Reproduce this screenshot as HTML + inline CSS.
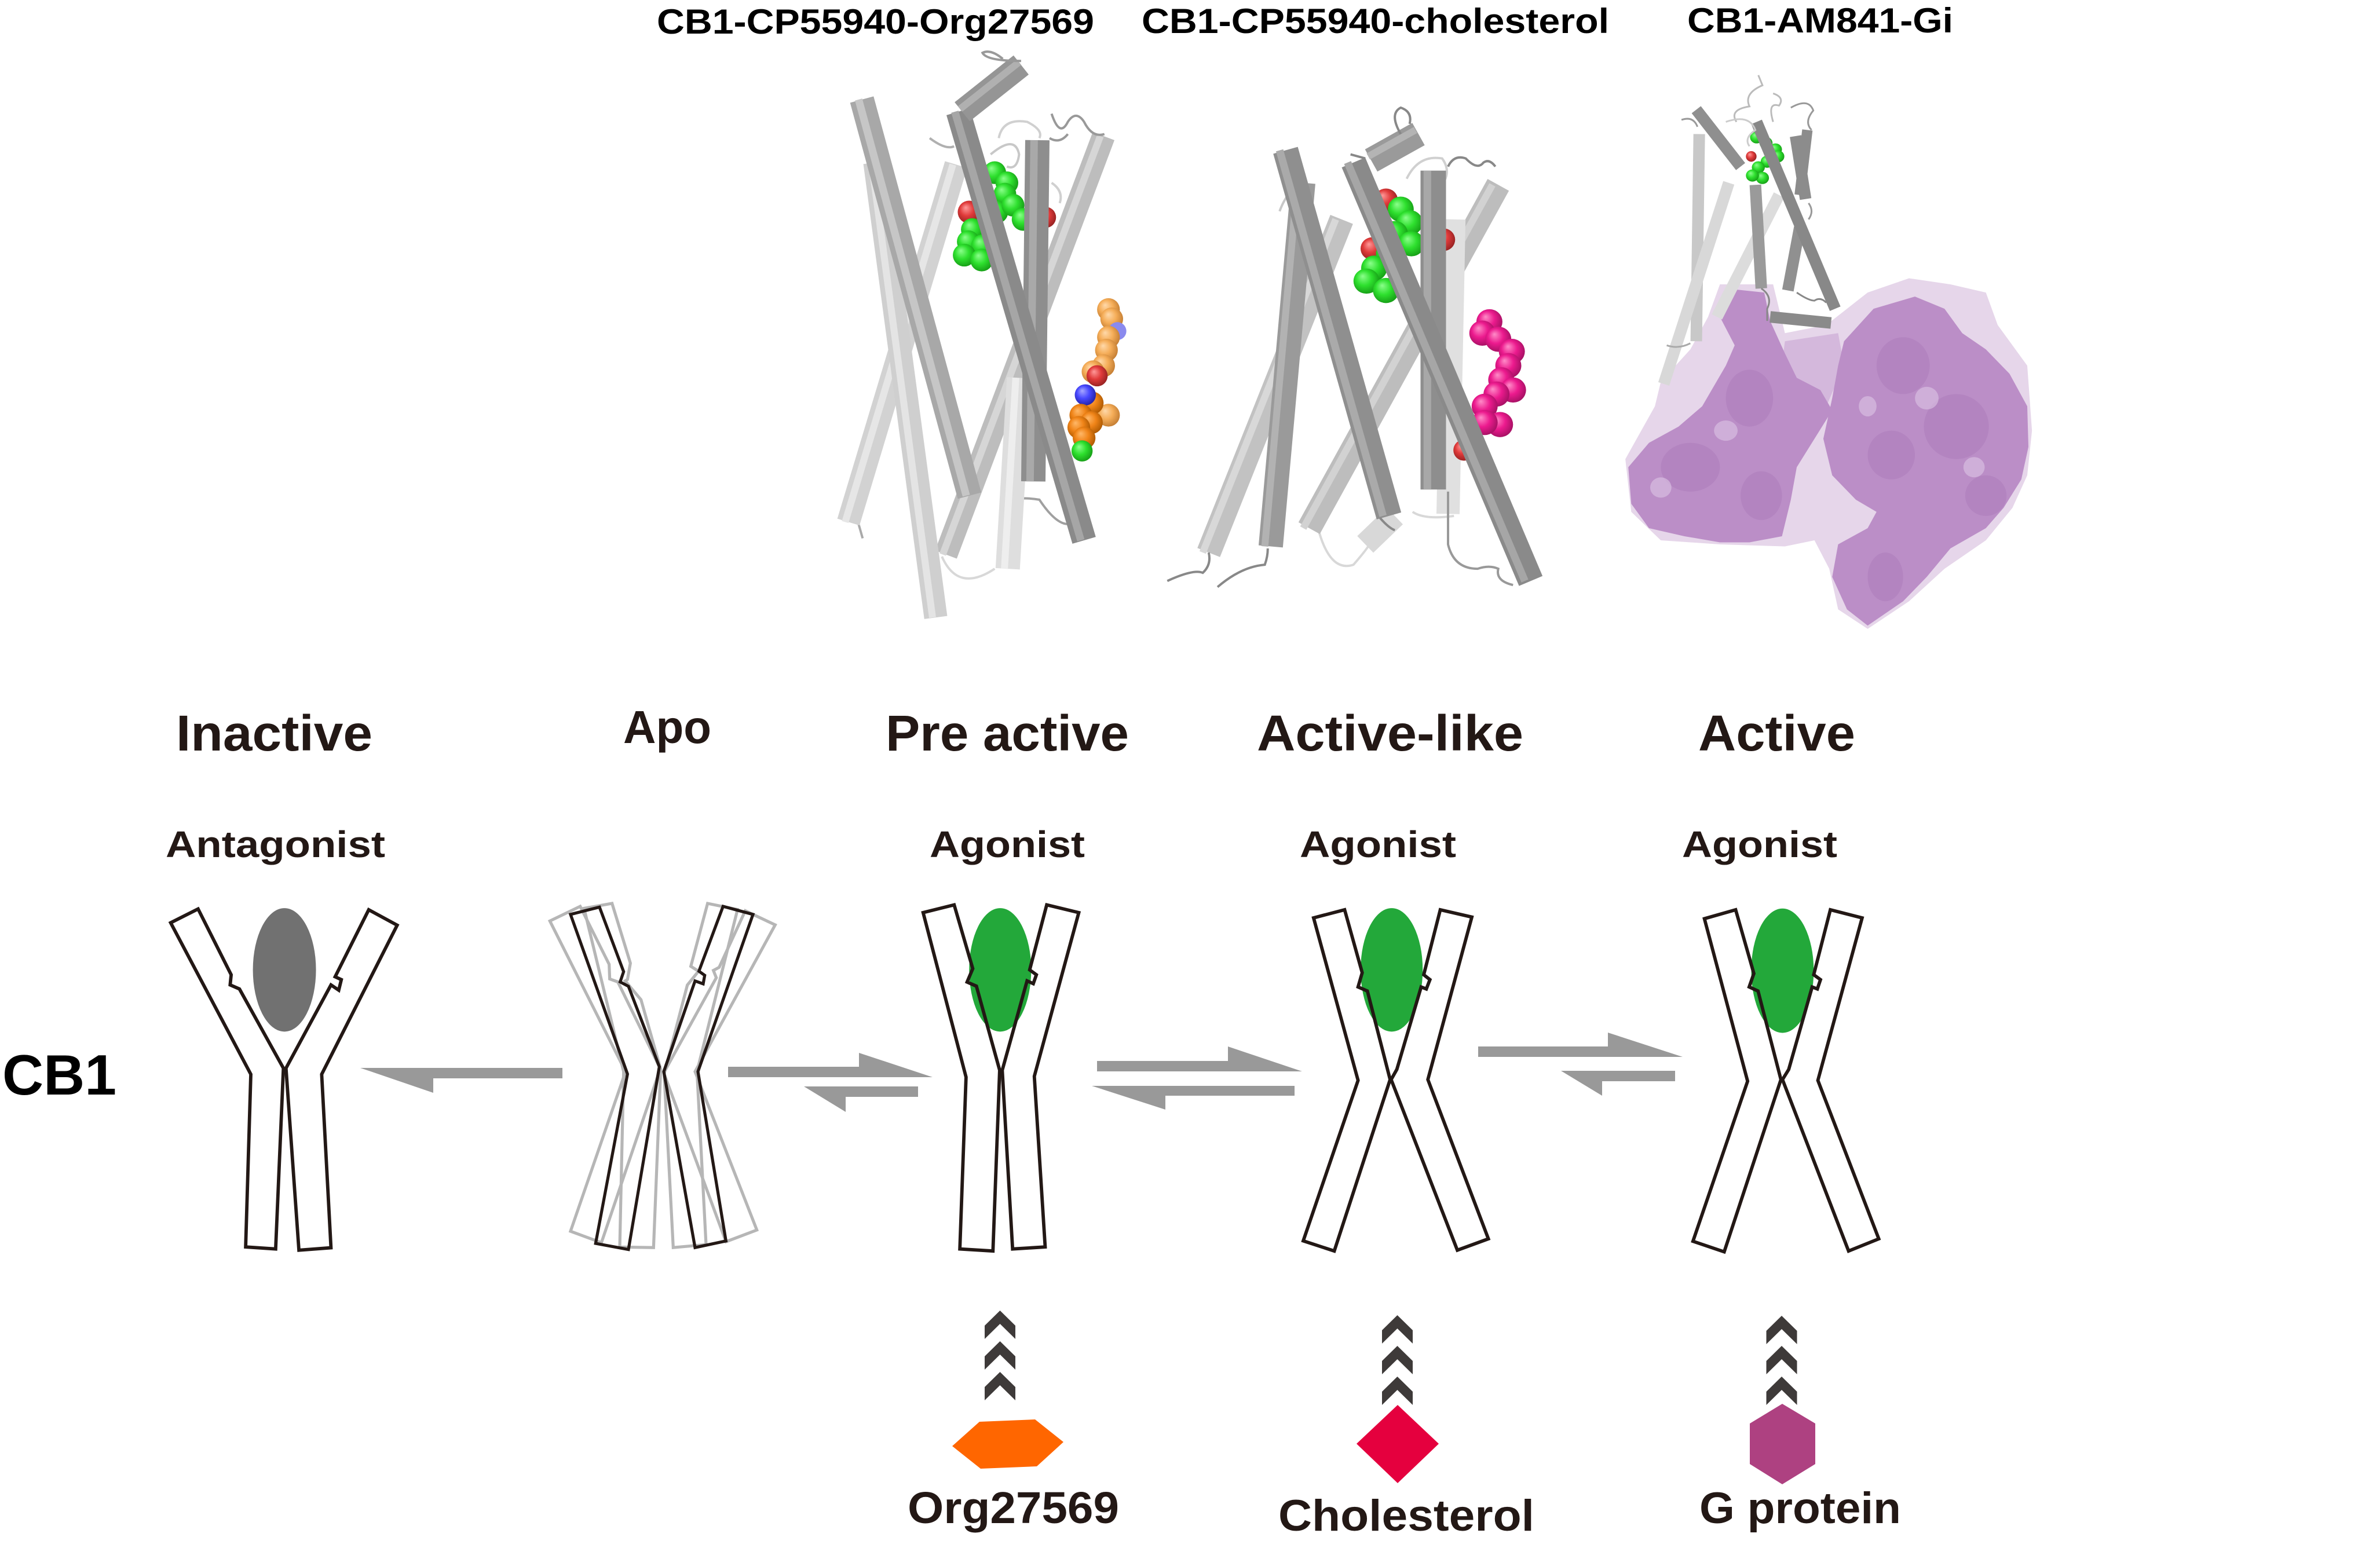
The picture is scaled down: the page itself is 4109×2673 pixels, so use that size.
<!DOCTYPE html>
<html><head><meta charset="utf-8">
<style>
html,body{margin:0;padding:0;background:#fff}
svg{display:block}
svg *{vector-effect:non-scaling-stroke}
.t{font-family:"Liberation Sans",Arial,sans-serif;font-weight:bold}
</style></head>
<body>
<svg width="4109" height="2673" viewBox="0 0 4109 2673" xmlns="http://www.w3.org/2000/svg">
<defs>
<radialGradient id="gG" cx="0.45" cy="0.45" r="0.6" fx="0.35" fy="0.3"><stop offset="0" stop-color="#8cff8c"/><stop offset="0.5" stop-color="#2ee02e"/><stop offset="1" stop-color="#149814"/></radialGradient>
<radialGradient id="gR" cx="0.45" cy="0.45" r="0.6" fx="0.35" fy="0.3"><stop offset="0" stop-color="#ff9a9a"/><stop offset="0.5" stop-color="#e03a3a"/><stop offset="1" stop-color="#902020"/></radialGradient>
<radialGradient id="gO1" cx="0.45" cy="0.45" r="0.6" fx="0.35" fy="0.3"><stop offset="0" stop-color="#ffd9aa"/><stop offset="0.5" stop-color="#f5ad58"/><stop offset="1" stop-color="#c07a30"/></radialGradient>
<radialGradient id="gO2" cx="0.45" cy="0.45" r="0.6" fx="0.35" fy="0.3"><stop offset="0" stop-color="#ffb868"/><stop offset="0.5" stop-color="#f08418"/><stop offset="1" stop-color="#a85600"/></radialGradient>
<radialGradient id="gB" cx="0.45" cy="0.45" r="0.6" fx="0.35" fy="0.3"><stop offset="0" stop-color="#a8a8ff"/><stop offset="0.5" stop-color="#4848ff"/><stop offset="1" stop-color="#2020a0"/></radialGradient>
<radialGradient id="gP" cx="0.45" cy="0.45" r="0.6" fx="0.35" fy="0.3"><stop offset="0" stop-color="#ff8cc8"/><stop offset="0.5" stop-color="#ec1a8e"/><stop offset="1" stop-color="#a01060"/></radialGradient>
</defs>
<rect width="4109" height="2673" fill="#fff"/>

<!-- ===== Top labels ===== -->
<text class="t" x="1134" y="58" font-size="60" fill="#000" textLength="755" lengthAdjust="spacingAndGlyphs">CB1-CP55940-Org27569</text>
<text class="t" x="1971" y="57" font-size="60" fill="#000" textLength="807" lengthAdjust="spacingAndGlyphs">CB1-CP55940-cholesterol</text>
<text class="t" x="2913" y="56" font-size="60" fill="#000" textLength="459" lengthAdjust="spacingAndGlyphs">CB1-AM841-Gi</text>

<!-- ===== Structure 1 (zoom7 coords) ===== -->
<g transform="translate(1100,0) scale(0.7015)" fill="none" stroke-linecap="butt">
  <path d="M750,1370 Q790,1460 880,1400" stroke="#d8d8d8" stroke-width="4"/>
  <path d="M545,1290 L555,1325" stroke="#aaa" stroke-width="4"/>
  <path d="M890,340 Q900,290 960,300 Q1000,320 990,340" stroke="#d0d0d0" stroke-width="4"/>
  <path d="M870,380 Q930,330 940,380 Q935,420 910,410" stroke="#c8c8c8" stroke-width="4"/>
  <path d="M1020,450 Q1050,470 1040,500" stroke="#d0d0d0" stroke-width="4"/>
  <path d="M720,340 Q760,370 780,360" stroke="#b0b0b0" stroke-width="4"/>
  <path d="M910,1240 Q930,1220 990,1230 Q1030,1290 1060,1290" stroke="#a0a0a0" stroke-width="4"/>
  <line x1="785" y1="405" x2="520" y2="1285" stroke="#d2d2d2" stroke-width="40"/>
  <line x1="777" y1="405" x2="512" y2="1285" stroke="#e6e6e6" stroke-width="12"/>
  <line x1="1148" y1="335" x2="760" y2="1365" stroke="#bdbdbd" stroke-width="40"/>
  <line x1="1140" y1="335" x2="752" y2="1365" stroke="#d6d6d6" stroke-width="12"/>
  <line x1="940" y1="930" x2="912" y2="1400" stroke="#dedede" stroke-width="42"/>
  <line x1="932" y1="930" x2="904" y2="1400" stroke="#eeeeee" stroke-width="12"/>
  <line x1="585" y1="400" x2="735" y2="1520" stroke="#cfcfcf" stroke-width="40"/>
  <line x1="577" y1="400" x2="727" y2="1520" stroke="#e4e4e4" stroke-width="12"/>
  <line x1="553" y1="245" x2="818" y2="1220" stroke="#a8a8a8" stroke-width="42"/>
  <line x1="545" y1="245" x2="810" y2="1220" stroke="#c6c6c6" stroke-width="13"/>
  <g stroke="none">
    <circle cx="880" cy="425" r="28" fill="url(#gG)"/>
    <circle cx="910" cy="450" r="28" fill="url(#gG)"/>
    <circle cx="905" cy="478" r="28" fill="url(#gG)"/>
    <circle cx="885" cy="522" r="28" fill="url(#gG)"/>
    <circle cx="925" cy="505" r="28" fill="url(#gG)"/>
    <circle cx="950" cy="540" r="28" fill="url(#gG)"/>
    <circle cx="817" cy="522" r="28" fill="url(#gR)"/>
    <circle cx="1005" cy="535" r="26" fill="url(#gR)"/>
    <circle cx="860" cy="560" r="28" fill="url(#gG)"/>
    <circle cx="825" cy="565" r="28" fill="url(#gG)"/>
    <circle cx="815" cy="595" r="28" fill="url(#gG)"/>
    <circle cx="850" cy="605" r="28" fill="url(#gG)"/>
    <circle cx="805" cy="628" r="28" fill="url(#gG)"/>
    <circle cx="848" cy="640" r="28" fill="url(#gG)"/>
    <circle cx="1160" cy="762" r="28" fill="url(#gO1)"/>
    <circle cx="1168" cy="785" r="28" fill="url(#gO1)"/>
    <circle cx="1182" cy="815" r="22" fill="#8a8aee"/>
    <circle cx="1160" cy="830" r="28" fill="url(#gO1)"/>
    <circle cx="1155" cy="862" r="28" fill="url(#gO1)"/>
    <circle cx="1148" cy="900" r="28" fill="url(#gO1)"/>
    <circle cx="1122" cy="915" r="28" fill="url(#gO1)"/>
    <circle cx="1132" cy="925" r="26" fill="url(#gR)"/>
    <circle cx="1160" cy="1022" r="28" fill="url(#gO1)"/>
    <circle cx="1120" cy="992" r="28" fill="url(#gO2)"/>
    <circle cx="1103" cy="972" r="26" fill="url(#gB)"/>
    <circle cx="1092" cy="1022" r="28" fill="url(#gO2)"/>
    <circle cx="1118" cy="1040" r="28" fill="url(#gO2)"/>
    <circle cx="1087" cy="1052" r="28" fill="url(#gO2)"/>
    <circle cx="1100" cy="1078" r="28" fill="url(#gO2)"/>
    <circle cx="1095" cy="1110" r="26" fill="url(#gG)"/>
  </g>
  <line x1="985" y1="345" x2="975" y2="1185" stroke="#8e8e8e" stroke-width="42"/>
  <line x1="977" y1="345" x2="967" y2="1185" stroke="#a9a9a9" stroke-width="13"/>
  <line x1="790" y1="275" x2="1100" y2="1330" stroke="#8a8a8a" stroke-width="42"/>
  <line x1="782" y1="275" x2="1092" y2="1330" stroke="#a6a6a6" stroke-width="13"/>
  <line x1="800" y1="275" x2="945" y2="160" stroke="#959595" stroke-width="42"/>
  <line x1="795" y1="268" x2="940" y2="153" stroke="#b0b0b0" stroke-width="12"/>
  <path d="M945,150 Q860,150 850,130 Q870,120 900,145" stroke="#999" stroke-width="4"/>
  <path d="M1020,280 Q1040,340 1060,300 Q1080,270 1100,300 Q1120,340 1150,330" stroke="#999" stroke-width="4"/>
  <path d="M1015,340 Q1040,355 1060,330" stroke="#999" stroke-width="4"/>
</g>

<!-- ===== Structure 2 (zoom8 coords) ===== -->
<g transform="translate(2000,0) scale(1.0204,0.7015)" fill="none" stroke-linecap="butt">
  <path d="M270,1300 Q290,1410 330,1390 Q360,1340 360,1330" stroke="#d8d8d8" stroke-width="4"/>
  <path d="M430,1260 Q450,1280 500,1270" stroke="#d8d8d8" stroke-width="4"/>
  <path d="M420,440 Q440,380 480,390 Q500,430 470,470" stroke="#d0d0d0" stroke-width="4"/>
  <path d="M205,520 Q220,460 250,450" stroke="#c8c8c8" stroke-width="4"/>
  <line x1="310" y1="540" x2="85" y2="1360" stroke="#c2c2c2" stroke-width="42"/>
  <line x1="300" y1="540" x2="75" y2="1360" stroke="#d8d8d8" stroke-width="12"/>
  <line x1="575" y1="455" x2="255" y2="1300" stroke="#bdbdbd" stroke-width="42"/>
  <line x1="565" y1="455" x2="245" y2="1300" stroke="#d2d2d2" stroke-width="12"/>
  <line x1="500" y1="540" x2="490" y2="1265" stroke="#e0e0e0" stroke-width="40"/>
  <line x1="400" y1="1270" x2="350" y2="1340" stroke="#d8d8d8" stroke-width="40"/>
  <line x1="245" y1="450" x2="190" y2="1345" stroke="#9a9a9a" stroke-width="42"/>
  <line x1="235" y1="450" x2="180" y2="1345" stroke="#b2b2b2" stroke-width="12"/>
  <line x1="215" y1="370" x2="390" y2="1270" stroke="#8f8f8f" stroke-width="44"/>
  <line x1="205" y1="370" x2="380" y2="1270" stroke="#aaaaaa" stroke-width="13"/>
  <g stroke="none">
    <ellipse cx="385" cy="492" rx="20" ry="28" fill="url(#gR)"/>
    <ellipse cx="410" cy="515" rx="22" ry="31" fill="url(#gG)"/>
    <ellipse cx="425" cy="548" rx="22" ry="31" fill="url(#gG)"/>
    <ellipse cx="400" cy="575" rx="22" ry="31" fill="url(#gG)"/>
    <ellipse cx="428" cy="600" rx="22" ry="31" fill="url(#gG)"/>
    <ellipse cx="482" cy="590" rx="20" ry="28" fill="url(#gR)"/>
    <ellipse cx="362" cy="612" rx="20" ry="28" fill="url(#gR)"/>
    <ellipse cx="390" cy="625" rx="22" ry="31" fill="url(#gG)"/>
    <ellipse cx="365" cy="660" rx="22" ry="31" fill="url(#gG)"/>
    <ellipse cx="352" cy="692" rx="22" ry="31" fill="url(#gG)"/>
    <ellipse cx="385" cy="715" rx="22" ry="31" fill="url(#gG)"/>
    <ellipse cx="560" cy="792" rx="22" ry="31" fill="url(#gP)"/>
    <ellipse cx="548" cy="820" rx="22" ry="31" fill="url(#gP)"/>
    <ellipse cx="575" cy="835" rx="22" ry="31" fill="url(#gP)"/>
    <ellipse cx="598" cy="865" rx="22" ry="31" fill="url(#gP)"/>
    <ellipse cx="592" cy="900" rx="22" ry="31" fill="url(#gP)"/>
    <ellipse cx="580" cy="935" rx="22" ry="31" fill="url(#gP)"/>
    <ellipse cx="600" cy="960" rx="22" ry="31" fill="url(#gP)"/>
    <ellipse cx="572" cy="970" rx="22" ry="31" fill="url(#gP)"/>
    <ellipse cx="552" cy="1000" rx="22" ry="31" fill="url(#gP)"/>
    <ellipse cx="578" cy="1045" rx="22" ry="31" fill="url(#gP)"/>
    <ellipse cx="552" cy="1040" rx="22" ry="31" fill="url(#gP)"/>
    <ellipse cx="517" cy="1108" rx="18" ry="26" fill="url(#gR)"/>
  </g>
  <line x1="465" y1="420" x2="465" y2="1205" stroke="#8e8e8e" stroke-width="44"/>
  <line x1="455" y1="420" x2="455" y2="1205" stroke="#a8a8a8" stroke-width="13"/>
  <line x1="330" y1="400" x2="630" y2="1430" stroke="#8a8a8a" stroke-width="44"/>
  <line x1="320" y1="400" x2="620" y2="1430" stroke="#a6a6a6" stroke-width="13"/>
  <line x1="360" y1="395" x2="440" y2="330" stroke="#9a9a9a" stroke-width="44"/>
  <line x1="355" y1="385" x2="435" y2="320" stroke="#b4b4b4" stroke-width="12"/>
  <path d="M410,330 Q390,280 410,265 Q430,275 425,305" stroke="#888" stroke-width="4"/>
  <path d="M490,410 Q500,380 520,390 Q540,420 550,400 Q560,390 570,410" stroke="#888" stroke-width="4"/>
  <path d="M325,380 L350,390" stroke="#888" stroke-width="4"/>
  <path d="M600,1440 Q570,1430 575,1400 Q560,1390 540,1400 Q500,1400 490,1340 L490,1210" stroke="#999" stroke-width="4"/>
  <path d="M15,1430 Q60,1400 75,1410 Q90,1390 85,1360" stroke="#888" stroke-width="4"/>
  <path d="M100,1445 Q140,1395 180,1390 Q185,1370 185,1350" stroke="#888" stroke-width="4"/>
  <path d="M375,1275 Q390,1300 400,1305" stroke="#888" stroke-width="4"/>
</g>

<!-- ===== Structure 3 (Gi) ===== -->
<g transform="translate(2000,0) scale(1.0204,0.7015)" fill="none">
  <path stroke="none" fill="#e6d6ea" d="M950,700 L1040,700 L1060,820 L1130,800 L1200,720 L1270,685 L1340,700 L1400,720 L1420,800 L1470,900 L1478,1060 L1470,1170 L1445,1250 L1400,1330 L1330,1400 L1270,1480 L1200,1548 L1150,1500 L1135,1400 L1110,1330 L1060,1345 L950,1340 L850,1330 L800,1260 L790,1130 L840,1000 L850,940 L900,860 L930,780 Z"/>
  <path stroke="none" fill="#d4b8dc" d="M1060,840 L1150,820 L1160,900 L1130,1000 L1100,1060 L1060,1050 L1050,950 Z"/>
  <path stroke="none" fill="#bb8ec7" d="M960,710 L1025,720 L1035,790 L1060,870 L1080,930 L1120,960 L1140,1010 L1110,1080 L1080,1150 L1070,1230 L1055,1320 L1000,1335 L950,1335 L890,1320 L830,1300 L800,1240 L795,1150 L830,1090 L880,1050 L920,1000 L960,900 L975,850 L950,780 Z"/>
  <path stroke="none" fill="#bb8ec7" d="M1160,840 L1210,760 L1280,730 L1330,760 L1360,820 L1400,860 L1440,920 L1470,1000 L1472,1100 L1460,1180 L1430,1250 L1400,1300 L1340,1350 L1300,1420 L1260,1480 L1200,1540 L1165,1500 L1140,1420 L1150,1340 L1200,1300 L1215,1260 L1180,1230 L1140,1170 L1125,1080 L1140,980 L1150,900 Z"/>
  <g stroke="none" fill="#a574b4" opacity="0.35">
    <ellipse cx="1000" cy="980" rx="40" ry="70"/>
    <ellipse cx="900" cy="1150" rx="50" ry="60"/>
    <ellipse cx="1020" cy="1220" rx="35" ry="60"/>
    <ellipse cx="1260" cy="900" rx="45" ry="70"/>
    <ellipse cx="1350" cy="1050" rx="55" ry="80"/>
    <ellipse cx="1240" cy="1120" rx="40" ry="60"/>
    <ellipse cx="1230" cy="1420" rx="30" ry="60"/>
    <ellipse cx="1400" cy="1220" rx="35" ry="50"/>
  </g>
  <g stroke="none" fill="#dcc4e4" opacity="0.6">
    <ellipse cx="960" cy="1060" rx="20" ry="25"/>
    <ellipse cx="1300" cy="980" rx="20" ry="28"/>
    <ellipse cx="1200" cy="1000" rx="15" ry="25"/>
    <ellipse cx="1380" cy="1150" rx="18" ry="25"/>
    <ellipse cx="850" cy="1200" rx="18" ry="25"/>
  </g>
  <line x1="915" y1="330" x2="910" y2="840" stroke="#c8c8c8" stroke-width="20"/>
  <line x1="965" y1="450" x2="855" y2="945" stroke="#d8d8d8" stroke-width="20"/>
  <line x1="1050" y1="480" x2="945" y2="780" stroke="#dcdcdc" stroke-width="20"/>
  <line x1="910" y1="270" x2="985" y2="410" stroke="#8f8f8f" stroke-width="20"/>
  <line x1="1010" y1="455" x2="1020" y2="710" stroke="#9a9a9a" stroke-width="20"/>
  <line x1="1085" y1="560" x2="1065" y2="715" stroke="#909090" stroke-width="20"/>
  <line x1="1078" y1="335" x2="1095" y2="490" stroke="#8c8c8c" stroke-width="20"/>
  <line x1="1098" y1="320" x2="1085" y2="480" stroke="#8c8c8c" stroke-width="18"/>
  <g stroke="none">
    <ellipse cx="1012" cy="338" rx="11" ry="15" fill="url(#gG)"/>
    <ellipse cx="1028" cy="352" rx="11" ry="15" fill="url(#gG)"/>
    <ellipse cx="1044" cy="368" rx="11" ry="15" fill="url(#gG)"/>
    <ellipse cx="1048" cy="385" rx="11" ry="15" fill="url(#gG)"/>
    <ellipse cx="1030" cy="398" rx="11" ry="15" fill="url(#gG)"/>
    <ellipse cx="1015" cy="412" rx="11" ry="15" fill="url(#gG)"/>
    <ellipse cx="1022" cy="438" rx="11" ry="15" fill="url(#gG)"/>
    <ellipse cx="1005" cy="432" rx="11" ry="15" fill="url(#gG)"/>
    <ellipse cx="1003" cy="385" rx="9" ry="13" fill="url(#gR)"/>
  </g>
  <line x1="1012" y1="300" x2="1145" y2="760" stroke="#888" stroke-width="20"/>
  <line x1="1035" y1="780" x2="1138" y2="795" stroke="#8a8a8a" stroke-width="20"/>
  <path d="M1015,185 L1022,210 Q990,230 1000,262 Q965,270 978,300" stroke="#bbb" stroke-width="3"/>
  <path d="M960,300 Q1000,280 1010,320 Q990,340 1000,360" stroke="#ccc" stroke-width="3"/>
  <path d="M1070,265 Q1100,240 1108,272 Q1092,300 1105,320" stroke="#999" stroke-width="3"/>
  <path d="M885,295 Q905,285 912,312" stroke="#999" stroke-width="3"/>
  <path d="M1040,230 Q1060,240 1050,260 Q1030,250 1040,300" stroke="#bbb" stroke-width="3"/>
  <path d="M1020,710 Q1040,730 1030,760 L1030,790" stroke="#888" stroke-width="3"/>
  <path d="M1080,720 Q1100,740 1110,740 Q1120,730 1130,745" stroke="#888" stroke-width="3"/>
  <path d="M1100,500 Q1110,520 1100,540" stroke="#999" stroke-width="3"/>
  <path d="M900,845 Q880,860 860,850" stroke="#aaa" stroke-width="3"/>
</g>

<!-- ===== State labels ===== -->
<g class="t" fill="#231815">
<text x="304" y="1296" font-size="87" textLength="339" lengthAdjust="spacingAndGlyphs">Inactive</text>
<text x="1076" y="1283" font-size="80" textLength="152" lengthAdjust="spacingAndGlyphs">Apo</text>
<text x="1529" y="1296" font-size="87" textLength="420" lengthAdjust="spacingAndGlyphs">Pre active</text>
<text x="2170" y="1296" font-size="87" textLength="460" lengthAdjust="spacingAndGlyphs">Active-like</text>
<text x="2932" y="1296" font-size="87" textLength="271" lengthAdjust="spacingAndGlyphs">Active</text>
<text x="286" y="1480" font-size="64" textLength="379" lengthAdjust="spacingAndGlyphs">Antagonist</text>
<text x="1605" y="1480" font-size="64" textLength="268" lengthAdjust="spacingAndGlyphs">Agonist</text>
<text x="2244" y="1480" font-size="64" textLength="270" lengthAdjust="spacingAndGlyphs">Agonist</text>
<text x="2904" y="1480" font-size="64" textLength="268" lengthAdjust="spacingAndGlyphs">Agonist</text>
<text x="1567" y="2630" font-size="77" textLength="365" lengthAdjust="spacingAndGlyphs">Org27569</text>
<text x="2207" y="2643" font-size="76" textLength="442" lengthAdjust="spacingAndGlyphs">Cholesterol</text>
<text x="2934" y="2630" font-size="76" textLength="348" lengthAdjust="spacingAndGlyphs">G protein</text>
</g>
<text class="t" x="4" y="1890" font-size="98" fill="#000" textLength="197" lengthAdjust="spacingAndGlyphs">CB1</text>

<!-- ===== Inactive receptor ===== -->
<g transform="translate(0,1150) scale(0.89286,0.70151)" stroke="#231815" stroke-width="5.8" stroke-linejoin="miter">
  <polygon fill="#fff" points="330,632 383,598 447,760 445,785 463,795 548,990 533,1435 475,1430 485,1005"/>
  <polygon fill="#fff" points="713,600 768,638 622,1005 640,1432 578,1438 553,990 640,785 655,798 660,772 648,765"/>
  <ellipse cx="550" cy="748" rx="61" ry="152" fill="#717171" stroke="none"/>
</g>

<!-- ===== Apo receptor ===== -->
<g transform="translate(920,1560) scale(0.33333,0.42083)" fill="none" stroke-width="5.2" stroke-linejoin="miter">
  <g stroke="#b6b6b6">
    <polygon points="88,72 245,12 395,250 398,310 440,322 660,678 355,1392 195,1345 480,690"/>
    <polygon points="265,20 410,0 505,245 490,312 478,318 560,395 662,680 625,1412 450,1410 470,690"/>
    <polygon points="1100,30 1255,88 840,690 1160,1340 1000,1388 678,695 950,305 935,275 965,262"/>
    <polygon points="905,0 1060,25 850,690 897,1400 727,1412 680,700 800,335 858,278 818,258"/>
  </g>
  <g stroke="#231815">
    <polygon points="195,45 345,15 470,280 452,322 495,340 655,670 495,1420 325,1395 490,700"/>
    <polygon points="985,12 1140,45 855,690 1000,1385 840,1412 678,690 840,318 882,330 890,295 860,278"/>
  </g>
</g>

<!-- ===== Pre active receptor ===== -->
<g transform="translate(1400,1150) scale(0.89286,0.70151)" stroke-linejoin="miter">
  <polygon fill="#fff" stroke="none" points="217,607 277,588 313,745 302,778 320,788 365,995 352,1440 288,1435 300,1012"/>
  <polygon fill="#fff" stroke="none" points="456,588 518,607 432,1010 453,1430 390,1435 370,995 418,775 430,782 436,760 423,748"/>
  <ellipse cx="366" cy="748" rx="60" ry="152" fill="#23a83a"/>
  <polygon fill="none" stroke="#231815" stroke-width="5.8" points="217,607 277,588 313,745 302,778 320,788 365,995 352,1440 288,1435 300,1012"/>
  <polygon fill="none" stroke="#231815" stroke-width="5.8" points="456,588 518,607 432,1010 453,1430 390,1435 370,995 418,775 430,782 436,760 423,748"/>
</g>

<!-- ===== Active-like receptor ===== -->
<g transform="translate(1400,1150) scale(0.89286,0.70151)" stroke-linejoin="miter">
  <polygon fill="#fff" stroke="none" points="972,620 1032,600 1066,755 1058,790 1076,800 1120,1018 1012,1440 952,1415 1058,1020"/>
  <polygon fill="#fff" stroke="none" points="1217,600 1278,618 1193,1018 1310,1410 1250,1438 1122,1018 1133,993 1180,790 1190,795 1197,772 1185,760"/>
  <ellipse cx="1123" cy="748" rx="60" ry="152" fill="#23a83a"/>
  <polygon fill="none" stroke="#231815" stroke-width="5.8" points="972,620 1032,600 1066,755 1058,790 1076,800 1120,1018 1012,1440 952,1415 1058,1020"/>
  <polygon fill="none" stroke="#231815" stroke-width="5.8" points="1217,600 1278,618 1193,1018 1310,1410 1250,1438 1122,1018 1133,993 1180,790 1190,795 1197,772 1185,760"/>
</g>

<!-- ===== Active receptor ===== -->
<g transform="translate(2700,1150) scale(0.8986,0.70151)" stroke-linejoin="miter">
  <polygon fill="#fff" stroke="none" points="270,622 330,600 365,757 356,790 373,800 417,1018 308,1442 248,1416 353,1022"/>
  <polygon fill="#fff" stroke="none" points="512,600 573,620 488,1020 605,1410 547,1440 420,1018 432,993 477,790 487,795 493,772 480,760"/>
  <ellipse cx="420" cy="750" rx="60" ry="153" fill="#23a83a"/>
  <polygon fill="none" stroke="#231815" stroke-width="5.8" points="270,622 330,600 365,757 356,790 373,800 417,1018 308,1442 248,1416 353,1022"/>
  <polygon fill="none" stroke="#231815" stroke-width="5.8" points="512,600 573,620 488,1020 605,1410 547,1440 420,1018 432,993 477,790 487,795 493,772 480,760"/>
</g>

<!-- ===== Equilibrium arrows ===== -->
<g fill="#999999">
  <polygon points="622,1844 971,1844 971,1862 748,1862 748,1887"/>
  <polygon points="1257,1842 1483,1842 1483,1818 1610,1860 1257,1860"/>
  <polygon points="1388,1876 1585,1876 1585,1894 1460,1894 1460,1920"/>
  <polygon points="1894,1832 2120,1832 2120,1807 2248,1850 1894,1850"/>
  <polygon points="1885,1875 2235,1875 2235,1892 2012,1892 2012,1916"/>
  <polygon points="2552,1807 2776,1807 2776,1783 2905,1825 2552,1825"/>
  <polygon points="2695,1849 2892,1849 2892,1867 2766,1867 2766,1892"/>
</g>

<!-- ===== Chevrons ===== -->
<g fill="#3e3a39">
  <polygon points="1726.5,2263 1753,2289 1753,2312 1726.5,2286 1700,2312 1700,2289"/>
  <polygon points="1726.5,2316 1753,2342 1753,2365 1726.5,2339 1700,2365 1700,2342"/>
  <polygon points="1726.5,2369 1753,2395 1753,2418 1726.5,2392 1700,2418 1700,2395"/>
  <polygon points="2412.5,2271 2439,2297 2439,2320 2412.5,2294 2386,2320 2386,2297"/>
  <polygon points="2412.5,2324 2439,2350 2439,2373 2412.5,2347 2386,2373 2386,2350"/>
  <polygon points="2412.5,2377 2439,2403 2439,2426 2412.5,2400 2386,2426 2386,2403"/>
  <polygon points="3076,2272 3102.5,2298 3102.5,2321 3076,2295 3049.5,2321 3049.5,2298"/>
  <polygon points="3076,2324 3102.5,2350 3102.5,2373 3076,2347 3049.5,2373 3049.5,2350"/>
  <polygon points="3076,2377 3102.5,2403 3102.5,2426 3076,2400 3049.5,2426 3049.5,2403"/>
</g>

<!-- ===== Ligand shapes ===== -->
<polygon fill="#ff6600" points="1691,2455 1787,2451 1836,2490 1790,2532 1693,2536 1644,2497"/>
<polygon fill="#e5003e" points="2413,2426 2484,2493 2413,2561 2342,2493"/>
<polygon fill="#ae4181" points="3077,2424 3134,2458 3134,2528 3077,2563 3021,2528 3021,2458"/>
</svg>
</body></html>
